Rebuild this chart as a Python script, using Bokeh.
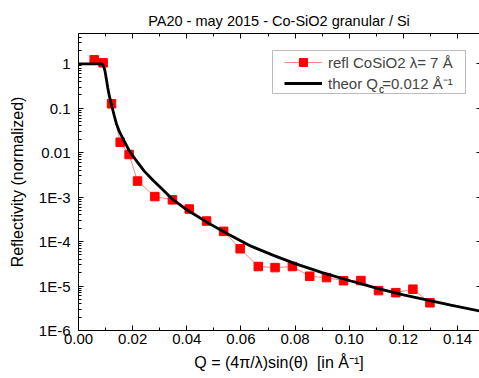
from bokeh.plotting import figure
from bokeh.models import (ColumnDataSource, LinearAxis, LogAxis, FixedTicker,
                          SingleIntervalTicker, PrintfTickFormatter, Range1d,
                          Legend, LegendItem, BoxAnnotation, CustomJSTickFormatter, Label)
from bokeh.embed import file_html
from bokeh.resources import INLINE

q_meas = [0.0058, 0.0091, 0.0122, 0.0154, 0.0187, 0.0218, 0.0282, 0.0347,
          0.0409, 0.0473, 0.0536, 0.0597, 0.0664, 0.0726, 0.0790, 0.0854,
          0.0916, 0.0979, 0.1043, 0.1108, 0.1172, 0.1235, 0.1298]
r_meas = [1.23, 1.05, 0.126, 0.0172, 0.0091, 0.0023, 0.00103, 0.00087,
          0.00054, 0.00029, 0.00017, 6.9e-5, 2.75e-5, 2.6e-5, 2.75e-5, 1.66e-5,
          1.55e-5, 1.32e-5, 1.33e-5, 7.9e-6, 7.1e-6, 8.5e-6, 4.2e-6]

# theoretical curve
q_theor = [0.0, 0.006, 0.0082, 0.0088, 0.0093, 0.0098, 0.0103, 0.0108, 0.0113,
           0.0119, 0.0125, 0.0132, 0.0140, 0.0152, 0.0168, 0.0187, 0.0210,
           0.0242, 0.0275, 0.0304, 0.0347, 0.0400, 0.0427, 0.0480, 0.0550,
           0.0637, 0.0720, 0.0800, 0.0900, 0.1006, 0.1100, 0.1200, 0.1375, 0.1500]
r_theor = [1.0, 1.0, 0.995, 0.97, 0.88, 0.68, 0.45, 0.29, 0.2,
           0.14, 0.1, 0.068, 0.045, 0.029, 0.0186, 0.0112, 0.0071,
           0.0039, 0.0024, 0.00163, 9.0e-4, 5.2e-4, 4.1e-4, 2.6e-4, 1.5e-4,
           7.9e-5, 4.9e-5, 3.2e-5, 2.0e-5, 1.3e-5, 9.0e-6, 6.3e-6, 3.7e-6, 2.6e-6]

x_ticks = [0.00, 0.02, 0.04, 0.06, 0.08, 0.10, 0.12, 0.14]
y_ticks = [1e-6, 1e-5, 1e-4, 1e-3, 1e-2, 1e-1, 1.0]
y_tick_labels = ["1E-6", "1E-5", "1E-4", "1E-3", "0.01", "0.1", "1"]

title = "PA20 - may 2015 - Co-SiO2 granular / Si"
x_label = "Q = (4\u03c0/\u03bb)sin(\u03b8) \u00a0[in \u00c5\u207b\u00b9]"
y_label = "Reflectivity (normalized)"
leg_meas = "refl CoSiO2 \u03bb= 7 \u00c5"
leg_theor = "theor Q =0.012 \u00c5\u207b\u00b9"
leg_sub = "c"

FONT = "Liberation Sans"

p = figure(width=479, height=378, output_backend="svg", toolbar_location=None,
           y_axis_type="log", x_range=Range1d(0, 0.1481), y_range=Range1d(1e-6, 4.8),
           min_border_left=78, min_border_right=0, min_border_top=33, min_border_bottom=48)
p.background_fill_color = "white"
p.border_fill_color = "white"
p.outline_line_color = None
p.grid.visible = False

p.title.text = title
p.title.align = "center"
p.title.text_font = FONT
p.title.text_font_size = "14.5px"
p.title.text_font_style = "normal"
p.title.text_color = "black"
p.title.standoff = 10

minor_y = [m * 10.0 ** k for k in range(-6, 1) for m in range(2, 10) if m * 10.0 ** k < 4.8]
yticker = FixedTicker(ticks=y_ticks, minor_ticks=minor_y)
xticker = SingleIntervalTicker(interval=0.02, num_minor_ticks=2)
blank = CustomJSTickFormatter(code="return '';")

def style(ax):
    ax.axis_line_color = "black"
    ax.axis_line_width = 1
    ax.major_tick_line_color = "black"
    ax.minor_tick_line_color = "black"
    ax.major_tick_in = 5
    ax.major_tick_out = 0
    ax.minor_tick_in = 3
    ax.minor_tick_out = 0
    ax.major_label_text_font = FONT
    ax.major_label_text_font_size = "15px"
    ax.major_label_text_color = "black"
    ax.axis_label_text_font = FONT
    ax.axis_label_text_font_size = "16px"
    ax.axis_label_text_font_style = "normal"
    ax.axis_label_text_color = "black"

xa = p.xaxis[0]
style(xa)
xa.ticker = xticker
xa.formatter = PrintfTickFormatter(format="%.2f")
xa.axis_label = x_label
xa.major_label_standoff = 3
xa.axis_label_standoff = 7

ya = p.yaxis[0]
style(ya)
ya.ticker = yticker
ya.major_label_overrides = {v: s for v, s in zip(y_ticks, y_tick_labels)}
ya.axis_label = y_label
ya.major_label_standoff = 8
ya.axis_label_standoff = 10

top = LinearAxis(ticker=xticker, formatter=blank)
style(top)
top.major_label_text_font_size = "1px"
top.major_label_standoff = 0
p.add_layout(top, "above")

right = LogAxis(ticker=yticker, formatter=blank)
style(right)
right.major_label_text_font_size = "1px"
right.major_label_standoff = 0
right.axis_line_color = None
right.major_tick_in = 3
right.minor_tick_in = 0
p.add_layout(right, "right")

src_m = ColumnDataSource(dict(q=q_meas, r=r_meas))
src_t = ColumnDataSource(dict(q=q_theor, r=r_theor))

ln = p.line("q", "r", source=src_m, line_color="#ff3030", line_width=1, line_alpha=0.6)
sq = p.scatter("q", "r", source=src_m, marker="square", size=8.5, fill_color="#ff0000",
               line_color="#ff0000")
th = p.line("q", "r", source=src_t, line_color="black", line_width=2.8)

# legend frame (screen px measured from the frame's bottom-left corner)
box = BoxAnnotation(left=194, right=387, top=280, bottom=237,
                    left_units="screen", right_units="screen",
                    top_units="screen", bottom_units="screen",
                    fill_color="white", fill_alpha=1.0, line_color="#222222",
                    line_width=1, level="underlay")
p.add_layout(box)

legend = Legend(items=[LegendItem(label=leg_meas, renderers=[ln, sq]),
                       LegendItem(label=leg_theor, renderers=[th])],
                location=(206, 237), padding=1, spacing=1, glyph_width=38,
                glyph_height=20, label_height=20, label_standoff=6,
                label_text_font=FONT, label_text_font_size="15px",
                border_line_color=None, background_fill_alpha=0.0, margin=0)
p.add_layout(legend)

sub = Label(x=300.5, y=241, x_units="screen", y_units="screen", text=leg_sub,
            text_font=FONT, text_font_size="10px", text_color="black",
            text_baseline="alphabetic", text_align="left")
p.add_layout(sub)

open("out.html", "w").write(file_html(p, INLINE))
